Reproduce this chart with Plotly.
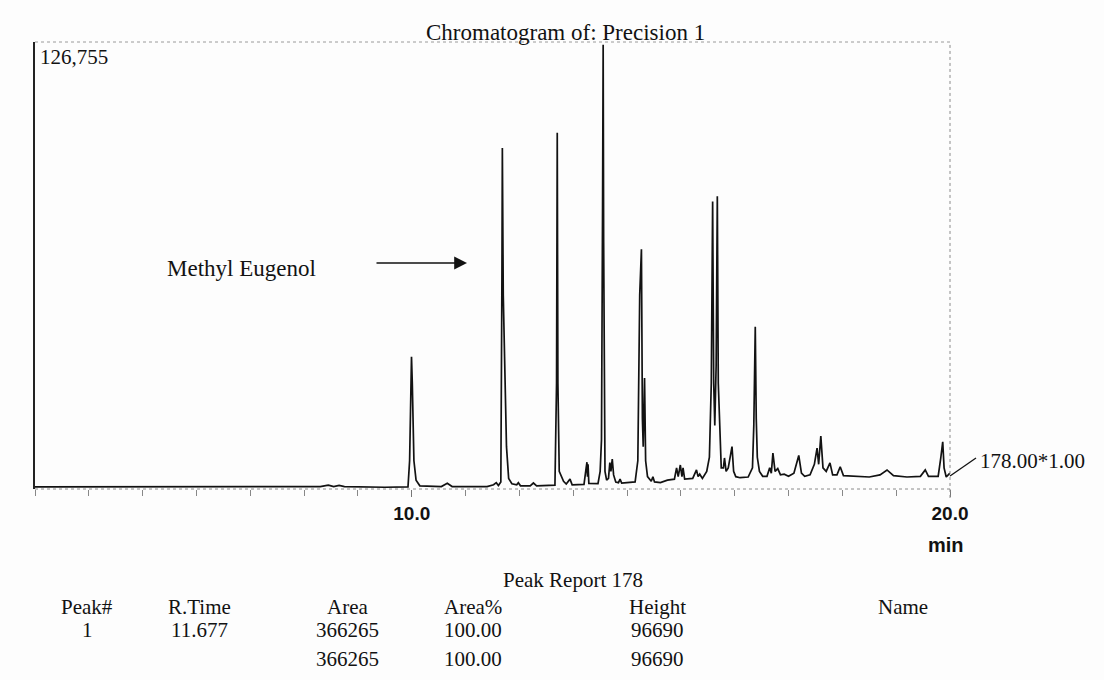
import plotly.graph_objects as go

# ---------------- data ----------------
rt_min = [3.00, 5.0, 7.0, 8.3, 8.45, 8.55, 8.65, 8.75, 9.5, 9.93, 9.96, 9.985, 9.995, 10.01, 10.04, 10.08, 10.15,
          10.55, 10.66, 10.75, 11.40, 11.52, 11.57, 11.61, 11.655, 11.675, 11.683, 11.70, 11.72, 11.735, 11.76,
          11.80, 11.86, 11.95, 11.98, 12.02, 12.2, 12.26, 12.32, 12.66, 12.69, 12.703, 12.715, 12.74, 12.78,
          12.82, 12.87, 12.94, 12.98, 13.2, 13.24, 13.255, 13.265, 13.275, 13.29, 13.46, 13.50, 13.525, 13.545,
          13.556, 13.565, 13.59, 13.62, 13.655, 13.68, 13.70, 13.725, 13.75, 13.79, 13.84, 13.87, 13.90, 14.15,
          14.20, 14.235, 14.267, 14.285, 14.30, 14.325, 14.345, 14.38, 14.45, 14.48, 14.51, 14.62, 14.75, 14.88,
          14.92, 14.95, 14.99, 15.02, 15.04, 15.07, 15.22, 15.29, 15.32, 15.35, 15.40, 15.48, 15.53, 15.565,
          15.59, 15.61, 15.63, 15.655, 15.677, 15.695, 15.72, 15.75, 15.79, 15.81, 15.84, 15.88, 15.95, 15.98,
          16.02, 16.1, 16.25, 16.33, 16.355, 16.382, 16.40, 16.42, 16.46, 16.52, 16.60, 16.65, 16.68, 16.71,
          16.75, 16.80, 16.85, 16.92, 17.0, 17.10, 17.19, 17.24, 17.30, 17.40, 17.48, 17.53, 17.56, 17.60,
          17.64, 17.70, 17.77, 17.82, 17.90, 17.96, 18.02, 18.2, 18.5, 18.7, 18.83, 18.95, 19.2, 19.45, 19.54,
          19.60, 19.78, 19.83, 19.865, 19.89, 19.93, 19.98, 20.0]
intensity = [600, 600, 500, 700, 1100, 700, 1000, 700, 500, 600, 8000, 33000, 37500, 30000, 8000, 2500, 900,
             700, 1600, 700, 700, 1200, 1800, 1000, 2000, 60000, 96700, 55000, 40000, 38000, 12000,
             3000, 1500, 1200, 1800, 900, 900, 1700, 900, 1100, 30000, 101000, 30000, 5000, 3500,
             2200, 1400, 2800, 1200, 1300, 6000, 7600, 3500, 7000, 1600, 1500, 5000, 14000, 80000,
             126000, 70000, 5000, 2500, 3000, 7500, 5000, 8500, 4000, 2000, 1800, 2800, 1700, 2000,
             8000, 55000, 68000, 20000, 12000, 31500, 8000, 3500, 2200, 3500, 2000, 1800, 2500, 2800,
             6000, 3500, 6800, 3500, 6000, 2800, 3000, 5400, 3500, 4200, 3000, 5000, 9000, 30000,
             81500, 30000, 18000, 35000, 83000, 30000, 18000, 6000, 6000, 8800, 5000, 6000, 12000, 5000,
             3500, 3200, 3400, 6000, 18000, 46000, 20000, 9000, 5000, 3600, 3600, 6000, 4500, 10200,
             5000, 5800, 4000, 4200, 3600, 4500, 9500, 4500, 3600, 4000, 7000, 11600, 7000, 15000,
             6000, 5000, 7400, 4000, 4000, 6300, 3800, 3600, 3400, 4000, 5400, 3800, 3400, 3600, 5400,
             3600, 3600, 9000, 13400, 6000, 3400, 4200, 4500]

full_scale = 126755
x_range = [3.0, 20.0]
x_label_vals = [10, 20]
x_label_text = ["10.0", "20.0"]

table_title = "Peak Report 178"
col_headers = ["Peak#", "R.Time", "Area", "Area%", "Height", "Name"]
row1 = ["1", "11.677", "366265", "100.00", "96690", ""]
row2 = ["", "", "366265", "100.00", "96690", ""]

# ---------------- layout helpers ----------------
L, R, T, B = 35, 950, 42, 489  # plot area in pixels
W, H = 1104, 680


def px(xp, yp):
    return (xp - L) / (R - L), (B - yp) / (B - T)


SERIF = "Liberation Serif, Times New Roman, serif"
SANS = "Liberation Sans, Arial, sans-serif"
INK = "#121212"

fig = go.Figure()
fig.add_trace(go.Scatter(x=rt_min, y=intensity, mode="lines",
                         line=dict(color=INK, width=1.7), hoverinfo="skip", showlegend=False))

annotations = []


def text(xp, yp, s, size, xanchor="center", family=SERIF, bold=False):
    x, y = px(xp, yp)
    annotations.append(dict(x=x, y=y, xref="paper", yref="paper", text=("<b>%s</b>" % s) if bold else s,
                            showarrow=False, xanchor=xanchor, yanchor="middle",
                            font=dict(family=family, size=size, color=INK)))


text(565, 32, "Chromatogram of: Precision 1", 23)
text(38, 57, "126,755", 21, xanchor="left")
text(165, 268, "Methyl Eugenol", 23, xanchor="left")
text(978, 461, "178.00*1.00", 21, xanchor="left")
text(946, 545, "min", 20, family=SANS, bold=True)

# arrow
hx, hy = px(467, 263)
annotations.append(dict(x=hx, y=hy, xref="paper", yref="paper", text="", showarrow=True,
                        ax=-92, ay=0, arrowhead=2, arrowsize=1.6, arrowwidth=1.6, arrowcolor=INK))

# table
col_x = [87, 199, 347, 473, 657, 903]
text(573, 580, table_title, 21)
for cx, h, a, b in zip(col_x, col_headers, row1, row2):
    text(cx, 607, h, 21)
    if a:
        text(cx, 630, a, 21)
    if b:
        text(cx, 659, b, 21)

shapes = [
    # dotted top border
    dict(type="line", xref="paper", yref="paper", x0=0, x1=1, y0=1, y1=1,
         line=dict(color="#9a9a9a", width=1, dash="dot")),
    # dotted right border
    dict(type="line", xref="paper", yref="paper", x0=1, x1=1, y0=-0.02, y1=1,
         line=dict(color="#8a8a8a", width=1, dash="dot")),
    # dotted bottom axis
    dict(type="line", xref="paper", yref="paper", x0=0, x1=1, y0=0, y1=0,
         line=dict(color="#8a8a8a", width=1, dash="dot")),
]
# leader line to the trace label
lx0, ly0 = px(950, 476)
lx1, ly1 = px(976, 458)
shapes.append(dict(type="line", xref="paper", yref="paper", x0=lx0, y0=ly0, x1=lx1, y1=ly1,
                   line=dict(color=INK, width=1.3)))

fig.update_layout(
    width=W, height=H,
    margin=dict(l=L, r=W - R, t=T, b=H - B, pad=0),
    paper_bgcolor="#fdfdfd", plot_bgcolor="#fdfdfd",
    showlegend=False,
    annotations=annotations,
    shapes=shapes,
    xaxis=dict(range=x_range, showgrid=False, zeroline=False, showline=False,
               tickmode="array", tickvals=x_label_vals, ticktext=["<b>%s</b>" % t for t in x_label_text],
               ticks="outside", ticklen=7, tickwidth=1, tickcolor="#777",
               tickfont=dict(family=SANS, size=19, color=INK),
               minor=dict(dtick=1, tick0=0, ticks="outside", ticklen=6, tickwidth=1,
                          tickcolor="#888", showgrid=False),
               fixedrange=True),
    yaxis=dict(range=[0, full_scale], showgrid=False, zeroline=False, showticklabels=False,
               ticks="", showline=True, linecolor="#222", linewidth=1.5, fixedrange=True),
)

fig.write_html("out.html")
